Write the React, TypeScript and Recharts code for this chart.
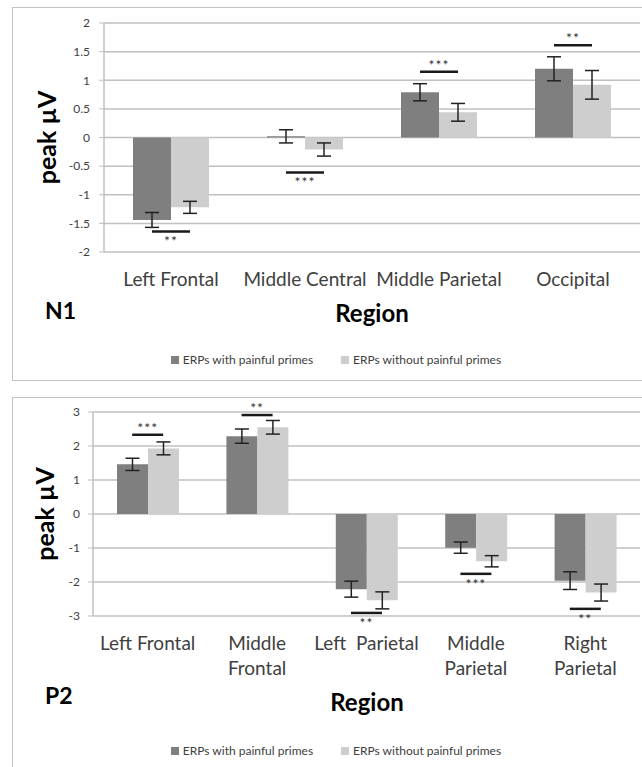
import { ComposedChart, Bar, ErrorBar, Scatter, XAxis, YAxis, CartesianGrid, Legend } from 'recharts'

const FONT = 'Lato, "Open Sans", sans-serif'
const DARK = '#7f7f7f'
const LIGHT = '#cecece'
const GRID = '#c0c0c0'

const seriesNames = ['ERPs with painful primes', 'ERPs without painful primes']

// N1 panel
const n1Regions = ['Left Frontal', 'Middle Central', 'Middle Parietal', 'Occipital']
const n1With = [-1.44, 0.02, 0.79, 1.2]
const n1WithErr = [0.13, 0.115, 0.15, 0.21]
const n1Without = [-1.22, -0.21, 0.44, 0.92]
const n1WithoutErr = [0.105, 0.115, 0.155, 0.25]
const n1Sig = [-1.64, -0.61, 1.15, 1.61]
const n1Stars = ['**', '***', '***', '**']
const n1StarSide = ['below', 'below', 'above', 'above']
const n1Ticks = [-2, -1.5, -1, -0.5, 0, 0.5, 1, 1.5, 2]

// P2 panel
const p2Regions = ['Left Frontal', 'Middle\nFrontal', 'Left  Parietal', 'Middle\nParietal', 'Right\nParietal']
const p2With = [1.46, 2.29, -2.21, -0.99, -1.96]
const p2WithErr = [0.18, 0.21, 0.235, 0.165, 0.26]
const p2Without = [1.93, 2.55, -2.54, -1.39, -2.31]
const p2WithoutErr = [0.19, 0.2, 0.25, 0.165, 0.25]
const p2Sig = [2.33, 2.91, -2.91, -1.76, -2.79]
const p2Stars = ['***', '**', '**', '***', '**']
const p2StarSide = ['above', 'above', 'below', 'below', 'below']
const p2Ticks = [-3, -2, -1, 0, 1, 2, 3]

const buildRows = (
  regions: string[], a: number[], aErr: number[], b: number[], bErr: number[],
  sig: number[], stars: string[], side: string[]
) =>
  regions.map((region, i) => ({
    region,
    withPain: a[i],
    withPainErr: aErr[i],
    withoutPain: b[i],
    withoutPainErr: bErr[i],
    sig: sig[i],
    stars: stars[i],
    side: side[i],
  }))

const n1Data = buildRows(n1Regions, n1With, n1WithErr, n1Without, n1WithoutErr, n1Sig, n1Stars, n1StarSide)
const p2Data = buildRows(p2Regions, p2With, p2WithErr, p2Without, p2WithoutErr, p2Sig, p2Stars, p2StarSide)

const CategoryTick = (props: any) => {
  const { x, y, payload } = props
  const lines = String(payload.value).split('\n')
  return (
    <text x={x} y={y} textAnchor="middle" fill="#404040" fontSize={19} fontFamily={FONT} style={{ whiteSpace: 'pre' }}>
      {lines.map((l, i) => (
        <tspan key={i} x={x} dy={i === 0 ? 34 : 25}>{l}</tspan>
      ))}
    </text>
  )
}

const sigShape = (half: number) => (props: any) => {
  const { cx, cy, payload } = props
  return (
    <g>
      <line x1={cx - half} x2={cx + half} y1={cy} y2={cy} stroke="#1a1a1a" strokeWidth={2.5} />
      <text
        x={cx}
        y={payload.side === 'above' ? cy - 2 : cy + 15}
        textAnchor="middle"
        fontSize={14}
        letterSpacing={1}
        fill="#333"
        fontFamily={FONT}
      >
        {payload.stars}
      </text>
    </g>
  )
}

const renderLegend = (props: any) => {
  const items = (props.payload || []).filter((p: any) => p.type !== 'none')
  return (
    <div style={{ display: 'flex', justifyContent: 'center', gap: 28, fontFamily: FONT, fontSize: 12, color: '#404040', lineHeight: '16px' }}>
      {items.map((it: any) => (
        <span key={it.value} style={{ display: 'inline-flex', alignItems: 'center' }}>
          <span style={{ display: 'inline-block', width: 8, height: 8, background: it.color, marginRight: 4 }} />
          {it.value}
        </span>
      ))}
    </div>
  )
}

type PanelProps = {
  data: any[]
  height: number
  plotTop: number
  plotBottom: number
  yWidth: number
  barSize: number
  domain: [number, number]
  ticks: number[]
  tickMargin: number
  xHeight: number
  legendTop: number
  labelDx: number
}

function Panel(p: PanelProps) {
  return (
    <ComposedChart
      width={642}
      height={p.height}
      data={p.data}
      margin={{ top: p.plotTop, right: 2, left: 0, bottom: p.height - p.plotBottom - p.xHeight }}
      barGap={0}
      barSize={p.barSize}
    >
      <CartesianGrid horizontal vertical={false} stroke={GRID} strokeWidth={1.5} />
      <XAxis
        dataKey="region"
        axisLine={false}
        tickLine={false}
        tickSize={0}
        tickMargin={0}
        height={p.xHeight}
        interval={0}
        tick={<CategoryTick />}
      />
      <YAxis
        width={p.yWidth}
        domain={p.domain}
        ticks={p.ticks}
        interval={0}
        axisLine={{ stroke: GRID, strokeWidth: 1.5 }}
        tickLine={{ stroke: GRID }}
        tickSize={5}
        tickMargin={p.tickMargin}
        tick={{ fill: '#404040', fontSize: 12, fontFamily: FONT }}
        label={{
          value: 'peak µV',
          angle: -90,
          position: 'center',
          dx: p.labelDx,
          style: { fill: '#000', fontSize: 25, fontWeight: 700, fontFamily: FONT, textAnchor: 'middle' },
        }}
      />
      <Legend verticalAlign="middle" align="center" wrapperStyle={{ left: 30, width: 612, top: p.legendTop }} content={renderLegend} />
      <Bar dataKey="withPain" name={seriesNames[0]} fill={DARK} isAnimationActive={false}>
        <ErrorBar dataKey="withPainErr" width={7} stroke="#222" strokeWidth={1.5} direction="y" />
      </Bar>
      <Bar dataKey="withoutPain" name={seriesNames[1]} fill={LIGHT} isAnimationActive={false}>
        <ErrorBar dataKey="withoutPainErr" width={7} stroke="#222" strokeWidth={1.5} direction="y" />
      </Bar>
      <Scatter dataKey="sig" legendType="none" shape={sigShape(p.barSize / 2)} isAnimationActive={false} />
    </ComposedChart>
  )
}

const boldText = { position: 'absolute' as const, fontFamily: FONT, fontWeight: 700, color: '#000', lineHeight: '28px' }

export default function App() {
  return (
    <div style={{ position: 'fixed', left: 0, top: 0, width: 642, height: 767, overflow: 'hidden', background: '#fff' }}>
      <div style={{ position: 'absolute', left: 12, top: 7, width: 680, height: 372, border: '1.5px solid #c4c4c4' }} />
      <div style={{ position: 'absolute', left: 12, top: 397, width: 680, height: 420, border: '1.5px solid #c4c4c4' }} />

      <div style={{ position: 'absolute', left: 0, top: 0 }}>
        <Panel
          data={n1Data}
          height={390}
          plotTop={23}
          plotBottom={252}
          yWidth={104}
          barSize={38}
          domain={[-2, 2]}
          ticks={n1Ticks}
          tickMargin={9}
          xHeight={40}
          legendTop={352}
          labelDx={-5}
        />
      </div>
      <div style={{ ...boldText, left: 45, top: 296, fontSize: 23 }}>N1</div>
      <div style={{ ...boldText, left: 272, width: 200, textAlign: 'center', top: 299, fontSize: 24 }}>Region</div>

      <div style={{ position: 'absolute', left: 0, top: 390 }}>
        <Panel
          data={p2Data}
          height={377}
          plotTop={22}
          plotBottom={226}
          yWidth={93}
          barSize={31}
          domain={[-3, 3]}
          ticks={p2Ticks}
          tickMargin={8}
          xHeight={60}
          legendTop={353}
          labelDx={-1}
        />
      </div>
      <div style={{ ...boldText, left: 45, top: 681, fontSize: 23 }}>P2</div>
      <div style={{ ...boldText, left: 267, width: 200, textAlign: 'center', top: 688, fontSize: 24 }}>Region</div>
    </div>
  )
}
